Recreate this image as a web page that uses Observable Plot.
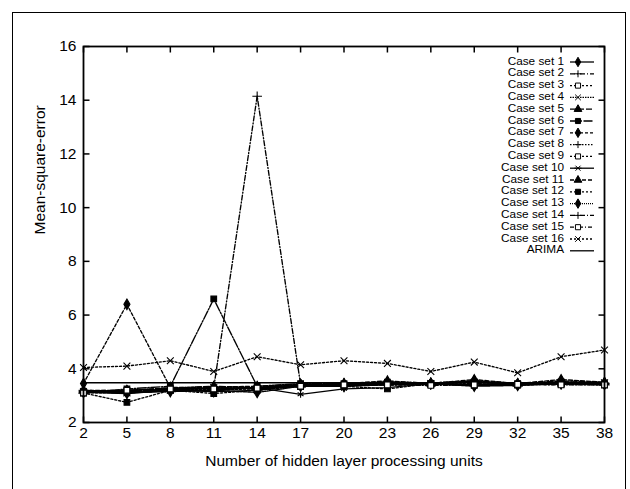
<!DOCTYPE html>
<html><head><meta charset="utf-8">
<script src="https://cdn.jsdelivr.net/npm/d3@7"></script>
<script src="https://cdn.jsdelivr.net/npm/@observablehq/plot@0.6"></script>
<style>
body{margin:0;background:#fff;}
#wrap{position:relative;width:630px;height:489px;overflow:hidden;font-family:"Liberation Sans",Arial,sans-serif;background:#fff;}
#border{position:absolute;left:12px;top:12px;width:612px;height:520px;border:1.3px solid #000;}
#chart{position:absolute;left:0;top:0;}
#legend{position:absolute;left:0;top:0;}
</style></head><body>
<div id="wrap"><div id="border"></div><div id="chart"></div><svg id="legend" width="630" height="489"></svg></div>
<script>
// ---- data ----
const hiddenUnits = [2, 5, 8, 11, 14, 17, 20, 23, 26, 29, 32, 35, 38];
const xTicks = [2, 5, 8, 11, 14, 17, 20, 23, 26, 29, 32, 35, 38];
const yTicks = [2, 4, 6, 8, 10, 12, 14, 16];
const caseSet1  = [3.12, 3.08, 3.20, 3.15, 3.20, 3.40, 3.38, 3.45, 3.45, 3.40, 3.42, 3.45, 3.42];
const caseSet2  = [3.20, 3.15, 3.25, 3.30, 14.15, 3.42, 3.40, 3.50, 3.45, 3.55, 3.45, 3.50, 3.45];
const caseSet3  = [3.10, 3.12, 3.22, 3.20, 3.28, 3.35, 3.40, 3.42, 3.42, 3.38, 3.40, 3.45, 3.40];
const caseSet4  = [3.15, 3.10, 3.20, 3.30, 3.25, 3.38, 3.35, 3.45, 3.45, 3.50, 3.42, 3.50, 3.48];
const caseSet5  = [3.18, 3.20, 3.28, 3.35, 3.30, 3.42, 3.45, 3.50, 3.47, 3.55, 3.45, 3.55, 3.50];
const caseSet6  = [3.10, 3.25, 3.35, 6.60, 3.35, 3.45, 3.45, 3.50, 3.45, 3.50, 3.45, 3.50, 3.45];
const caseSet7  = [3.45, 6.40, 3.30, 3.25, 3.30, 3.40, 3.42, 3.48, 3.45, 3.50, 3.42, 3.50, 3.45];
const caseSet8  = [3.15, 3.15, 3.25, 3.30, 3.30, 3.38, 3.40, 3.45, 3.48, 3.52, 3.45, 3.50, 3.45];
const caseSet9  = [3.12, 3.18, 3.25, 3.22, 3.25, 3.35, 3.38, 3.40, 3.42, 3.45, 3.40, 3.45, 3.42];
const caseSet10 = [3.15, 3.10, 3.18, 3.20, 3.30, 3.05, 3.25, 3.30, 3.45, 3.38, 3.40, 3.45, 3.45];
const caseSet11 = [3.20, 3.18, 3.30, 3.32, 3.35, 3.42, 3.45, 3.55, 3.45, 3.60, 3.45, 3.60, 3.50];
const caseSet12 = [3.10, 2.75, 3.20, 3.08, 3.20, 3.35, 3.35, 3.25, 3.45, 3.40, 3.40, 3.42, 3.40];
const caseSet13 = [3.15, 3.12, 3.15, 3.20, 3.12, 3.35, 3.35, 3.40, 3.45, 3.35, 3.38, 3.45, 3.45];
const caseSet14 = [3.18, 3.15, 3.22, 3.28, 3.30, 3.40, 3.42, 3.50, 3.48, 3.50, 3.45, 3.50, 3.47];
const caseSet15 = [3.10, 3.20, 3.25, 3.25, 3.28, 3.35, 3.40, 3.40, 3.38, 3.40, 3.42, 3.40, 3.40];
const caseSet16 = [4.05, 4.10, 4.30, 3.90, 4.45, 4.15, 4.30, 4.20, 3.90, 4.25, 3.85, 4.45, 4.70];
const arimaMSE = 3.48;
const seriesNames = ["Case set 1","Case set 2","Case set 3","Case set 4","Case set 5","Case set 6","Case set 7","Case set 8",
  "Case set 9","Case set 10","Case set 11","Case set 12","Case set 13","Case set 14","Case set 15","Case set 16"];
const seriesValues = [caseSet1,caseSet2,caseSet3,caseSet4,caseSet5,caseSet6,caseSet7,caseSet8,
  caseSet9,caseSet10,caseSet11,caseSet12,caseSet13,caseSet14,caseSet15,caseSet16];

// ---- styles ----
const styles = [
  {symbol:"diamond", fill:"black", dash:null},
  {symbol:"plus", fill:"none", dash:"5,2,1,2"},
  {symbol:"square", fill:"white", dash:"2,2"},
  {symbol:"times", fill:"none", dash:"1.5,1"},
  {symbol:"triangle", fill:"black", dash:"6,2"},
  {symbol:"square", fill:"black", dash:"9,1.5,1.5,1.5"},
  {symbol:"diamond", fill:"black", dash:"3,2"},
  {symbol:"plus", fill:"none", dash:"1.5,1.5"},
  {symbol:"square", fill:"white", dash:"2,2"},
  {symbol:"asterisk", fill:"none", dash:null},
  {symbol:"triangle", fill:"black", dash:"4,2"},
  {symbol:"square", fill:"black", dash:"2,2"},
  {symbol:"diamond", fill:"black", dash:"1,1"},
  {symbol:"plus", fill:"none", dash:"5,2,1,2"},
  {symbol:"square", fill:"white", dash:"4,2,1,2"},
  {symbol:"times", fill:"none", dash:"2,2"}
];

const tickUp = {draw(c){c.moveTo(0,0);c.lineTo(0,-6);}};
const tickDown = {draw(c){c.moveTo(0,0);c.lineTo(0,6);}};
const tickRight = {draw(c){c.moveTo(0,0);c.lineTo(6,0);}};
const tickLeft = {draw(c){c.moveTo(0,0);c.lineTo(-6,0);}};

const marks = [];
marks.push(Plot.ruleY([arimaMSE], {stroke:"black", strokeWidth:1.4}));
seriesValues.forEach((vals, i) => {
  const st = styles[i];
  const data = hiddenUnits.map((x, j) => ({x, y: vals[j]}));
  marks.push(Plot.line(data, {x:"x", y:"y", stroke:"black", strokeWidth:1.35, strokeDasharray: st.dash || undefined}));
  marks.push(Plot.dot(data, {x:"x", y:"y", symbol: st.symbol, r: 3.2, fill: st.fill, stroke:"black", strokeWidth:1.1}));
});
marks.push(Plot.dot(xTicks, {x:d=>d, y:2, symbol: tickUp, r:1, stroke:"black", strokeWidth:1.5, fill:"none"}));
marks.push(Plot.dot(xTicks, {x:d=>d, y:16, symbol: tickDown, r:1, stroke:"black", strokeWidth:1.5, fill:"none"}));
marks.push(Plot.dot(yTicks, {y:d=>d, x:2, symbol: tickRight, r:1, stroke:"black", strokeWidth:1.5, fill:"none"}));
marks.push(Plot.dot(yTicks, {y:d=>d, x:38, symbol: tickLeft, r:1, stroke:"black", strokeWidth:1.5, fill:"none"}));
marks.push(Plot.frame({stroke:"black", strokeWidth:1.8}));
marks.push(Plot.text(["Number of hidden layer processing units"], {frameAnchor:"bottom", dy:43, fontSize:15.5, fill:"black"}));
marks.push(Plot.text(["Mean-square-error"], {frameAnchor:"left", rotate:-90, dx:-43, fontSize:15.5, fill:"black"}));

const chart = Plot.plot({
  width: 630, height: 489,
  marginLeft: 83, marginRight: 26, marginTop: 46, marginBottom: 67,
  style: {fontFamily: "'Liberation Sans', Arial, sans-serif", fontSize: "15.5px", color: "black", background: "transparent", overflow: "visible"},
  x: {domain: [2, 38], ticks: xTicks, tickSize: 0, tickPadding: 4, label: null},
  y: {domain: [2, 16], ticks: yTicks, tickSize: 0, tickPadding: 7, label: null},
  marks
});
document.getElementById("chart").appendChild(chart);

// ---- legend (inside top-right of plot) ----
const lg = d3.select("#legend");
const legendItems = seriesNames.map((n, i) => ({name: n, st: styles[i]})).concat([{name: "ARIMA", st: null}]);
const fs = 10.2, targetFs = 11.8;
legendItems.forEach((it, i) => {
  const y = 62 + i * 11.8;
  const t = lg.append("text").attr("x", 564).attr("y", y).attr("text-anchor", "end").attr("dominant-baseline", "middle")
    .attr("font-family", "'Liberation Sans', Arial, sans-serif").attr("font-size", fs).text(it.name);
  const len = t.node().getComputedTextLength();
  t.attr("textLength", len * targetFs / fs).attr("lengthAdjust", "spacingAndGlyphs");
  const line = lg.append("line").attr("x1", 570).attr("x2", 594).attr("y1", y).attr("y2", y)
    .attr("stroke", "black").attr("stroke-width", 1.3);
  if (it.st && it.st.dash) line.attr("stroke-dasharray", it.st.dash);
  if (it.st) {
    const sym = {diamond: d3.symbolDiamond, plus: d3.symbolCross, square: d3.symbolSquare, times: d3.symbolX,
      triangle: d3.symbolTriangle, asterisk: d3.symbolAsterisk}[it.st.symbol];
    let path;
    if (it.st.symbol === "plus") path = "M-3.5,0H3.5M0,-3.5V3.5";
    else if (it.st.symbol === "times") path = "M-2.8,-2.8L2.8,2.8M-2.8,2.8L2.8,-2.8";
    else if (it.st.symbol === "asterisk") path = "M-3.5,0H3.5M-2.5,-2.5L2.5,2.5M-2.5,2.5L2.5,-2.5";
    else path = d3.symbol(sym, 26)();
    lg.append("path").attr("d", path).attr("transform", `translate(578,${y})`)
      .attr("fill", it.st.fill).attr("stroke", "black").attr("stroke-width", 1);
  }
});
</script>
</body></html>
